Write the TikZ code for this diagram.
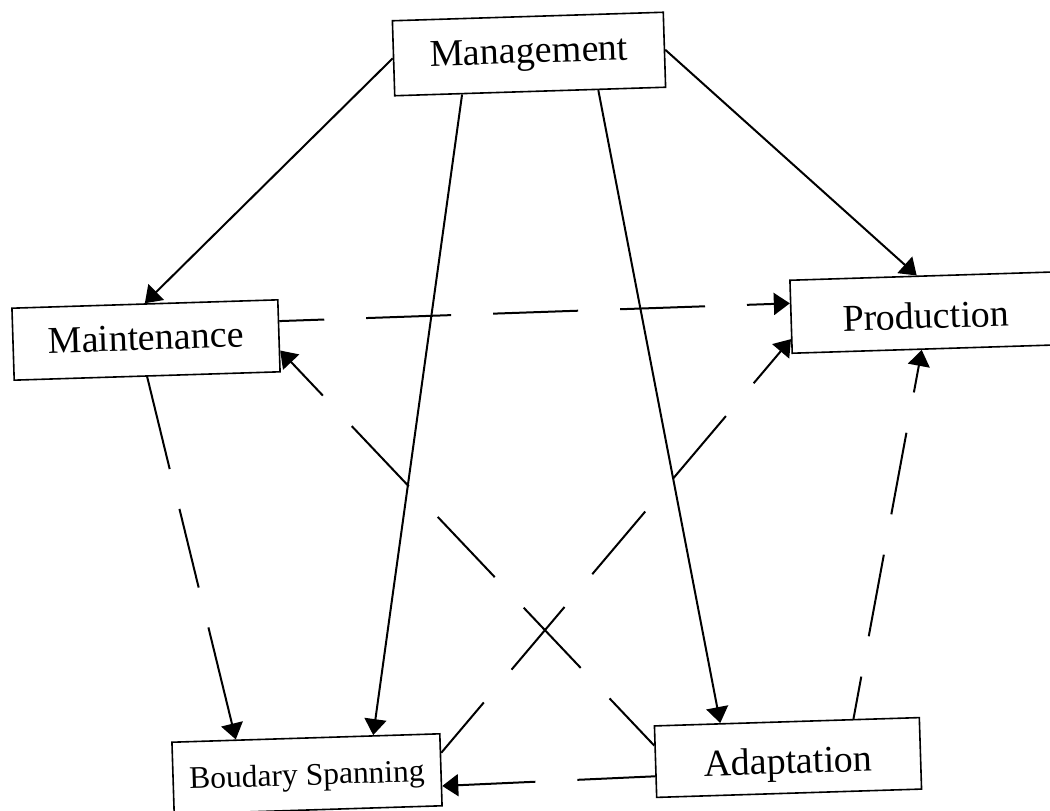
\documentclass[tikz,border=0pt]{standalone}
\usepackage{fontspec}
\setmainfont{Liberation Serif}
\usetikzlibrary{arrows.meta,calc}

\tikzset{
  block/.style={draw, line width=1.6pt, rotate=1.8, inner sep=0pt,
    minimum width=268pt, minimum height=73pt, text depth=0pt,
    font=\fontsize{38pt}{40pt}\selectfont},
  link/.style={line width=2pt, -{Triangle[length=16pt,width=22pt]}},
}

\begin{document}
\begin{tikzpicture}[x=1pt,y=-1pt]
\useasboundingbox (0,0) rectangle (1050,811);
\clip (0,0) rectangle (1050,811);

% the five functions
\node[block, minimum width=271pt, minimum height=75pt, text height=18pt] (mgmt) at (529,54) {Management};
\node[block, minimum width=266pt, minimum height=72pt, text height=20pt] (maint) at (146,340) {Maintenance};
\node[block, minimum width=270pt, minimum height=73pt, text height=32pt] (prod) at (926,312.5) {Production};
\node[block, minimum width=265pt, minimum height=71.5pt, text height=32pt] (adapt) at (788,757.5) {Adaptation};
\node[block, minimum width=268pt, minimum height=72pt, text height=22pt,
      font=\fontsize{31.5pt}{33pt}\selectfont] (bound) at (307,774) {Boudary Spanning};

% management links (solid)
\draw[link] (mgmt.west) -- (maint.north);
\draw[link] ($(mgmt.south west)!0.25!(mgmt.south east)$) -- ($(bound.north west)!0.75!(bound.north east)$);
\draw[link] ($(mgmt.south west)!0.75!(mgmt.south east)$) -- ($(adapt.north west)!0.25!(adapt.north east)$);
\draw[link] (mgmt.east) -- ($(prod.north west)!0.47!(prod.north east)$);

% lateral links (dashed)
\draw[link, dash pattern=on 85pt off 42pt, dash phase=40pt]
  ($(maint.north east)!0.3!(maint.south east)$) -- ($(prod.north west)!0.32!(prod.south west)$);
\draw[link, dash pattern=on 95pt off 41pt on 81pt off 41pt on 200pt off 1pt]
  (maint.south) -- ($(bound.north west)!0.24!(bound.north east)$);
\draw[link, dash pattern=on 83pt off 42pt, dash phase=18pt]
  ($(adapt.north west)!0.28!(adapt.south west)$) -- ($(maint.north east)!0.7!(maint.south east)$);
\draw[link, dash pattern=on 85pt off 42pt, dash phase=7pt]
  ($(adapt.north west)!0.7!(adapt.south west)$) -- ($(bound.north east)!0.72!(bound.south east)$);
\draw[link, dash pattern=on 82pt off 43pt, dash phase=16pt]
  ($(bound.north east)!0.27!(bound.south east)$) -- ($(prod.north west)!0.8!(prod.south west)$);
\draw[link, dash pattern=on 83pt off 41pt, dash phase=40pt]
  ($(adapt.north west)!0.75!(adapt.north east)$) -- ($(prod.south west)!0.48!(prod.south east)$);
\end{tikzpicture}
\end{document}
